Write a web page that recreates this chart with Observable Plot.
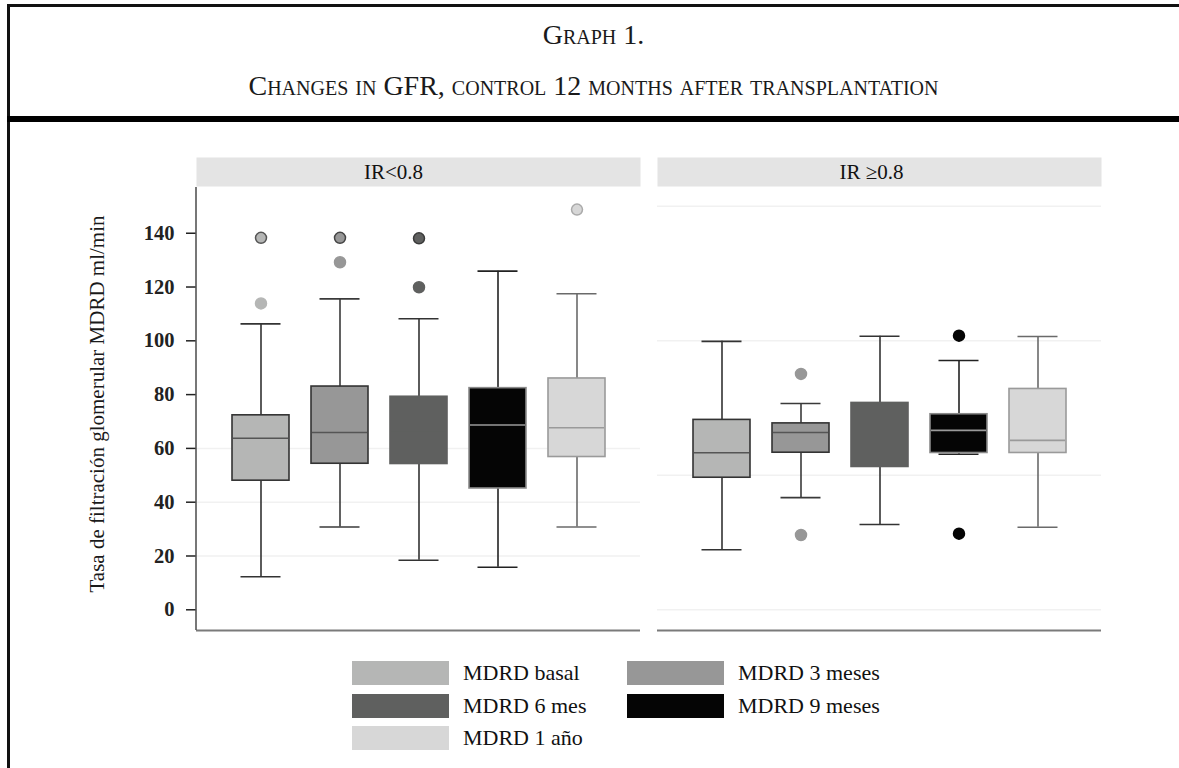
<!DOCTYPE html>
<html>
<head>
<meta charset="utf-8">
<script src="https://cdn.jsdelivr.net/npm/d3@7"></script>
<script src="https://cdn.jsdelivr.net/npm/@observablehq/plot@0.6"></script>
<style>
  html, body { margin: 0; padding: 0; background: #fff; }
  #page { position: relative; width: 1179px; height: 768px; overflow: hidden; background: #fff; font-family: "Liberation Serif", "Times New Roman", serif; color: #111; }
  .bar { position: absolute; background: #111; }
  .ttl { position: absolute; left: 8px; right: 0; text-align: center; font-variant: small-caps; font-size: 28px; line-height: 28px; color: #1a1a1a; white-space: nowrap; }
  #chart { position: absolute; left: 0; top: 130px; }
  #legend { position: absolute; top: 661px; left: 352px; display: grid; grid-template-columns: 97px 178px 97px auto; grid-auto-rows: 24px; row-gap: 8.5px; align-items: center; font-size: 22px; color: #111; }
  #legend .sw { width: 97px; height: 24px; }
  #legend .lb { padding-left: 14px; line-height: 24px; white-space: nowrap; }
</style>
</head>
<body>
<div id="page">
  <div class="bar" style="left:7px;top:4px;width:3px;height:764px;"></div>
  <div class="bar" style="left:7px;top:4px;right:0;height:3px;"></div>
  <div class="bar" style="left:7px;top:116px;right:0;height:6px;background:#000;"></div>
  <div class="ttl" id="t1" style="top:21px;"></div>
  <div class="ttl" id="t2" style="top:72px;"></div>
  <div id="chart"></div>
  <div id="legend"></div>
</div>
<script>
// ---- Text ----
const titleLine1 = "Graph 1.";
const titleLine2 = "Changes in GFR, control 12 months after transplantation";
const yTitle = "Tasa de filtración glomerular MDRD ml/min";

// ---- Categories ----
const panels = ["IR<0.8", "IR \u22650.8"];
const series = ["MDRD basal", "MDRD 3 meses", "MDRD 6 mes", "MDRD 9 meses", "MDRD 1 año"];
const yTicks = [0, 20, 40, 60, 80, 100, 120, 140];
const yDomain = [-7.7, 157];

// ---- Box statistics, panel IR<0.8 ----
const loA  = [12.3, 30.8, 18.4, 15.8, 30.8];
const q1A  = [48.0, 54.3, 54.2, 45.1, 56.8];
const medA = [63.8, 65.9, 66.0, 68.7, 67.7];
const q3A  = [72.3, 83.0, 79.2, 82.4, 86.0];
const hiA  = [106.3, 115.6, 108.2, 125.9, 117.5];

// ---- Box statistics, panel IR>=0.8 ----
const loB  = [22.3, 41.7, 31.7, 57.8, 30.7];
const q1B  = [49.1, 58.4, 53.1, 58.3, 58.3];
const medB = [58.4, 65.9, 65.9, 66.7, 63.0];
const q3B  = [70.6, 69.3, 76.9, 72.7, 82.1];
const hiB  = [99.8, 76.7, 101.7, 92.7, 101.6];

// ---- Outliers ----
const outPanel  = [0, 0, 0, 0, 0, 0, 0, 1, 1, 1, 1];
const outSeries = [0, 0, 1, 1, 2, 2, 4, 1, 1, 3, 3];
const outValue  = [138.3, 113.9, 138.3, 129.2, 138.1, 119.9, 148.8, 87.7, 27.8, 101.9, 28.3];
const outCount  = [2, 1, 2, 1, 2, 1, 2, 1, 1, 1, 1];

// ---- Faint grid lines ----
const gridA = [20, 40, 60];
const gridB = [0, 50, 100, 150];

// ---- Styles ----
const fills          = ["#b5b6b5", "#979797", "#5f605f", "#050505", "#d7d7d7"];
const boxStrokes     = ["#333333", "#333333", "#5f605f", "#8a8a8a", "#9a9a9a"];
const medianStrokes  = ["#555555", "#555555", "#5f605f", "#9a9a9a", "#9a9a9a"];
const whiskerStrokes = ["#333333", "#3a3a3a", "#333333", "#222222", "#6a6a6a"];
const ringStrokes    = ["#555555", "#444444", "#3a3a3a", "#111111", "#aaaaaa"];

document.getElementById("t1").textContent = titleLine1;
document.getElementById("t2").textContent = titleLine2;

const stats = [[loA, q1A, medA, q3A, hiA], [loB, q1B, medB, q3B, hiB]];
const boxes = panels.flatMap((p, pi) => series.map((s, si) => ({
  panel: p, series: s, si,
  lo: stats[pi][0][si], q1: stats[pi][1][si], med: stats[pi][2][si],
  q3: stats[pi][3][si], hi: stats[pi][4][si]
})));
const outliers = outValue.map((v, i) => ({
  panel: panels[outPanel[i]], series: series[outSeries[i]], si: outSeries[i], value: v, count: outCount[i]
}));
const grid = [
  ...gridA.map(v => ({panel: panels[0], v})),
  ...gridB.map(v => ({panel: panels[1], v}))
];

// vertical axis line along the left edge of the frame (kept only for the first panel below)
function axisLine(index, scales, values, dimensions) {
  const {marginLeft, marginTop, marginBottom, height} = dimensions;
  const line = document.createElementNS("http://www.w3.org/2000/svg", "line");
  line.setAttribute("class", "ax-line");
  line.setAttribute("x1", marginLeft);
  line.setAttribute("x2", marginLeft);
  line.setAttribute("y1", marginTop);
  line.setAttribute("y2", height - marginBottom);
  line.setAttribute("stroke", "#555");
  line.setAttribute("stroke-width", 1.6);
  return line;
}

const stripText = {frameAnchor: "top", lineAnchor: "middle", dy: -15.5, fontSize: 21, fill: "#111"};

const plot = Plot.plot({
  width: 1179,
  height: 510,
  marginLeft: 196,
  marginRight: 77.3,
  marginTop: 57,
  marginBottom: 10,
  style: {fontFamily: "'Liberation Serif', 'Times New Roman', serif", background: "transparent", overflow: "visible"},
  fx: {domain: panels, paddingInner: 0.036, paddingOuter: 0, axis: null, label: null},
  x: {domain: series, paddingInner: 0.28, paddingOuter: 0.435, axis: null},
  y: {domain: yDomain, axis: null},
  color: {type: "identity"},
  marks: [
    // strip background and labels
    Plot.frame({fill: "#e4e4e4", stroke: null, insetTop: -30, insetBottom: 444}),
    Plot.text([panels[0]], {fx: d => d, text: d => d, ...stripText, dx: -25}),
    Plot.text([panels[1]], {fx: d => d, text: d => d, ...stripText, dx: -8}),
    // faint grid
    Plot.ruleY(grid, {fx: "panel", y: "v", stroke: "#f1f1f1", strokeWidth: 1.5}),
    // bottom line
    Plot.ruleY([yDomain[0]], {stroke: "#7a7a7a", strokeWidth: 2}),
    // y axis
    Plot.axisY(yTicks, {tickSize: 10, tickPadding: 12, fontSize: 20.5, fontWeight: "bold", color: "#222", strokeWidth: 1.5, label: null}),
    axisLine,
    Plot.text([yTitle], {fx: () => panels[0], frameAnchor: "left", textAnchor: "middle", rotate: -90, dx: -99, dy: -5, fontSize: 21, fill: "#1a1a1a"}),
    // whiskers
    Plot.ruleX(boxes, {fx: "panel", x: "series", y1: "lo", y2: "hi", stroke: d => whiskerStrokes[d.si], strokeWidth: 1.6}),
    Plot.tickY(boxes, {fx: "panel", x: "series", y: "hi", stroke: d => whiskerStrokes[d.si], strokeWidth: 1.6, inset: 8.5}),
    Plot.tickY(boxes, {fx: "panel", x: "series", y: "lo", stroke: d => whiskerStrokes[d.si], strokeWidth: 1.6, inset: 8.5}),
    // boxes
    Plot.barY(boxes, {fx: "panel", x: "series", y1: "q1", y2: "q3", fill: d => fills[d.si], stroke: d => boxStrokes[d.si], strokeWidth: 1.6}),
    Plot.tickY(boxes, {fx: "panel", x: "series", y: "med", stroke: d => medianStrokes[d.si], strokeWidth: 1.6, inset: 1}),
    // outliers
    Plot.dot(outliers, {fx: "panel", x: "series", y: "value", r: 5.5, fill: d => fills[d.si],
      stroke: d => d.count > 1 ? ringStrokes[d.si] : fills[d.si], strokeWidth: 1.5})
  ]
});
// keep the axis line only in the first (left) panel
plot.querySelectorAll("line.ax-line").forEach((el, i) => { if (i > 0) el.remove(); });
document.getElementById("chart").appendChild(plot);

// ---- Legend ----
const legend = document.getElementById("legend");
series.forEach((s, i) => {
  const sw = document.createElement("div");
  sw.className = "sw";
  sw.style.background = fills[i];
  const lb = document.createElement("div");
  lb.className = "lb";
  lb.textContent = s;
  legend.appendChild(sw);
  legend.appendChild(lb);
});
</script>
</body>
</html>
